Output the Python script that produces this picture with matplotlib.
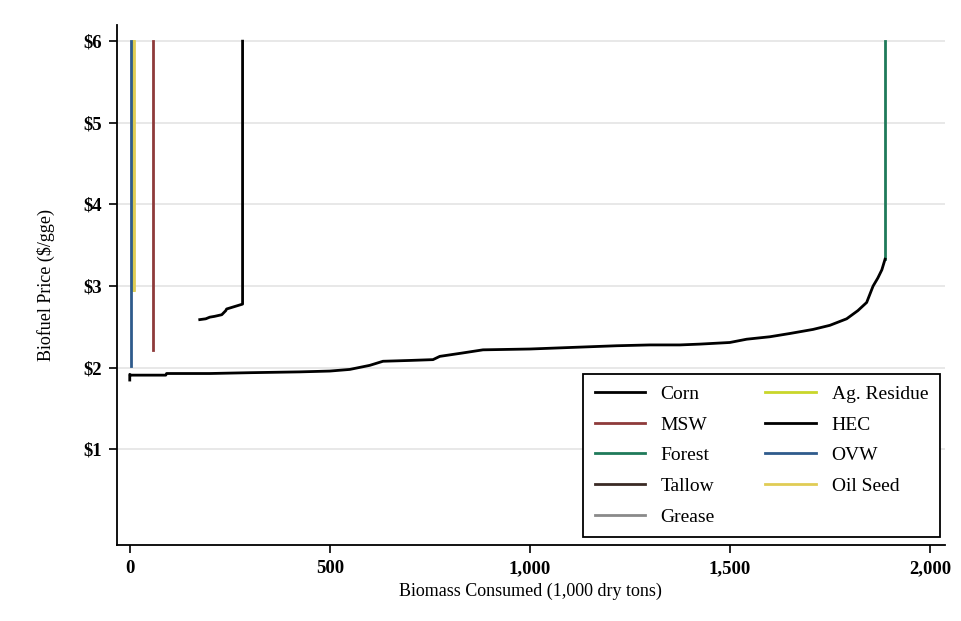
import matplotlib
matplotlib.use("Agg")
import matplotlib.pyplot as plt

# ---- data ----
hec_x = [0, 0, 2, 90, 92, 200, 300, 425, 500, 550, 600, 633, 700, 758, 775, 830, 883,
         1000, 1108, 1217, 1300, 1375, 1425, 1500, 1542, 1600, 1650, 1708, 1750,
         1792, 1820, 1842, 1858, 1870, 1880, 1888]
hec_y = [1.85, 1.92, 1.91, 1.91, 1.93, 1.93, 1.94, 1.95, 1.96, 1.98, 2.03, 2.08, 2.09,
         2.10, 2.14, 2.18, 2.22, 2.23, 2.25, 2.27, 2.28, 2.28, 2.29, 2.31, 2.35,
         2.38, 2.42, 2.47, 2.52, 2.60, 2.70, 2.80, 3.00, 3.10, 3.20, 3.33]

corn_x = [175, 190, 200, 212, 230, 240, 242, 282, 282]
corn_y = [2.59, 2.60, 2.62, 2.63, 2.65, 2.70, 2.72, 2.78, 6.0]

msw_x = [57, 57]
msw_y = [2.22, 6.0]

forest_x = [1888, 1888]
forest_y = [3.33, 6.0]

ovw_x = [3, 3]
ovw_y = [2.02, 6.0]

agres_x = [7, 7]
agres_y = [2.95, 6.0]

oilseed_x = [11, 11]
oilseed_y = [2.95, 6.0]

tallow_x, tallow_y = [], []
grease_x, grease_y = [], []

x_ticks = [0, 500, 1000, 1500, 2000]
x_labels = ["0", "500", "1,000", "1,500", "2,000"]
y_ticks = [1, 2, 3, 4, 5, 6]
y_labels = [r"\$1", r"\$2", r"\$3", r"\$4", r"\$5", r"\$6"]

# ---- plotting ----
plt.rcParams["font.family"] = ["Liberation Serif", "DejaVu Serif"]
fig = plt.figure(figsize=(9.61, 6.21), dpi=100)
ax = fig.add_axes([0.1217, 0.1224, 0.8613, 0.8376])

for yt in y_ticks:
    ax.axhline(yt, color="#e4e4e4", lw=1.2, zorder=0)

lw = 2.0
ax.plot(corn_x, corn_y, color="black", lw=lw, label="Corn", zorder=3)
ax.plot(msw_x, msw_y, color="#8e3a3a", lw=lw, label="MSW", zorder=3)
ax.plot(forest_x, forest_y, color="#1f7a5a", lw=lw, label="Forest", zorder=3)
ax.plot(tallow_x, tallow_y, color="#3a2a25", lw=lw, label="Tallow")
ax.plot(grease_x, grease_y, color="#8a8a8a", lw=lw, label="Grease")
ax.plot(agres_x, agres_y, color="#c9d62a", lw=lw, label="Ag. Residue", zorder=3)
ax.plot(hec_x, hec_y, color="black", lw=lw, label="HEC", zorder=3)
ax.plot(ovw_x, ovw_y, color="#2f5b8c", lw=lw, label="OVW", zorder=4)
ax.plot(oilseed_x, oilseed_y, color="#e0cc55", lw=lw, label="Oil Seed", zorder=3)

ax.set_xlim(-32, 2037)
ax.set_ylim(-0.17, 6.2)
ax.set_xticks(x_ticks)
ax.set_xticklabels(x_labels)
ax.set_yticks(y_ticks)
ax.set_yticklabels(y_labels)
ax.tick_params(direction="out", length=6, width=1.2, labelsize=13.5, pad=5)
for lab in ax.get_xticklabels() + ax.get_yticklabels():
    lab.set_fontweight("bold")
for side in ["top", "right"]:
    ax.spines[side].set_visible(False)
for side in ["left", "bottom"]:
    ax.spines[side].set_linewidth(1.3)

ax.set_xlabel("Biomass Consumed (1,000 dry tons)", fontsize=13, labelpad=4)
ax.set_ylabel(r"Biofuel Price (\$/gge)", fontsize=13, labelpad=20)

leg = ax.legend(ncol=2, loc="lower right", bbox_to_anchor=(0.994, 0.015),
                borderaxespad=0,
                fontsize=14, frameon=True, fancybox=False, framealpha=1,
                edgecolor="black", handlelength=2.6, columnspacing=2.6,
                labelspacing=0.67, borderpad=0.6, handletextpad=0.8)
leg.get_frame().set_linewidth(1.3)

fig.savefig("out.png", dpi=100, facecolor="white")
